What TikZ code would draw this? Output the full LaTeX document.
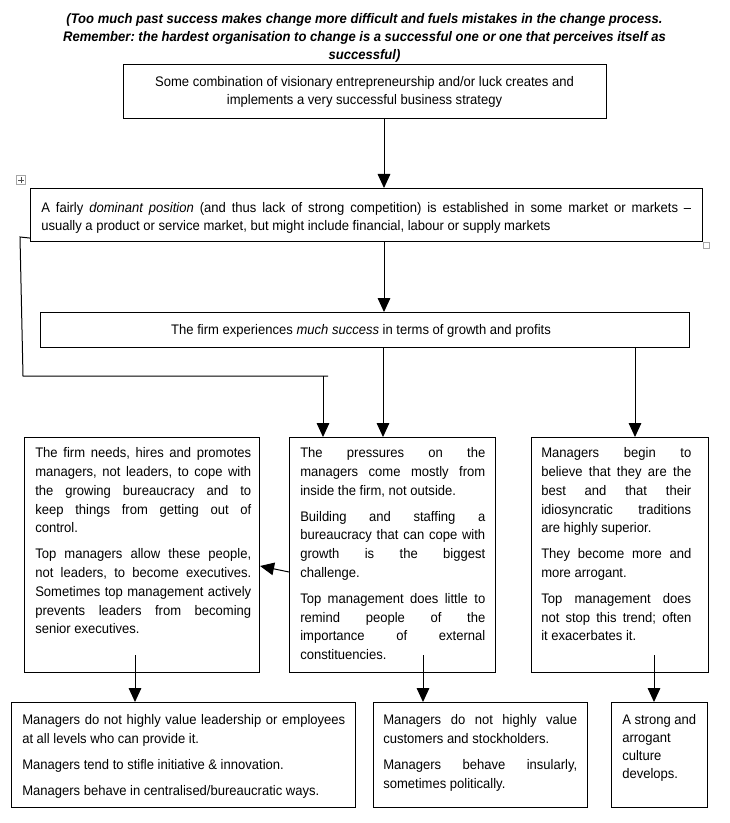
\documentclass[tikz,border=0pt]{standalone}
\usepackage{fontspec}
\setmainfont{Liberation Sans}[FakeStretch=0.94]
\usetikzlibrary{arrows.meta,calc}
\newlength\pxu \setlength\pxu{0.75pt}
\newcommand\hdf{\fontsize{10.4pt}{13.5pt}\selectfont\frenchspacing}
\newcommand\fstrut{\rule{0pt}{14\pxu}}
\newcommand\jtext[3]{\parbox[t]{#1\pxu}{\fontsize{10.4pt}{#2\pxu}\selectfont\frenchspacing\hyphenpenalty=10000 \exhyphenpenalty=10000 \tolerance=10000 \setlength\parskip{7\pxu}\fstrut #3}}
\begin{document}
\begin{tikzpicture}[x=0.75pt,y=-0.75pt,
  box/.style={draw, line width=0.8pt, inner sep=0pt, anchor=north west},
  txt/.style={inner sep=0pt, anchor=north west},
  ctxt/.style={inner sep=0pt, anchor=north, align=center, font=\hdf},
  arr/.style={-{Triangle[length=10.5pt,width=9.5pt]}, line width=0.75pt},
  conn/.style={line width=0.75pt}]
\useasboundingbox (0,0) rectangle (729,823);

% header
\node[ctxt, font=\hdf\bfseries\itshape] (H) at (364.5,9) {\fstrut(Too much past success makes change more difficult and fuels mistakes in the change process.\\Remember: the hardest organisation to change is a successful one or one that perceives itself as\\successful)};

% boxes
\node[box, minimum width=483\pxu, minimum height=54\pxu] (B1) at (123,64) {};
\node[box, minimum width=672\pxu, minimum height=53\pxu] (B2) at (30,188) {};
\node[box, minimum width=649\pxu, minimum height=35\pxu] (B3) at (40,312) {};
\node[box, minimum width=235\pxu, minimum height=235\pxu] (L) at (24,437) {};
\node[box, minimum width=206\pxu, minimum height=235\pxu] (M) at (289,437) {};
\node[box, minimum width=177\pxu, minimum height=235\pxu] (R) at (531,437) {};
\node[box, minimum width=344\pxu, minimum height=105\pxu] (BL) at (11,702) {};
\node[box, minimum width=214\pxu, minimum height=105\pxu] (BM) at (373,702) {};
\node[box, minimum width=96\pxu, minimum height=105\pxu] (BR) at (611,702) {};

% texts
\node[ctxt] (T1) at (364.5,72.5) {\fstrut Some combination of visionary entrepreneurship and/or luck creates and\\implements a very successful business strategy};
\node[txt] (T2) at (41,198.5) {\jtext{650}{18}{A fairly \textit{dominant position} (and thus lack of strong competition) is established in some market or markets --\linebreak usually a product or service market, but might include financial, labour or supply markets}};
\node[ctxt] (T3) at (361,320) {\fstrut The firm experiences \textit{much success} in terms of growth and profits};

\node[txt] (TL) at (35,443.5) {\jtext{216}{18.8}{The firm needs, hires and promotes\linebreak managers, not leaders, to cope with\linebreak the growing bureaucracy and to\linebreak keep things from getting out of\linebreak control.\par Top managers allow these people,\linebreak not leaders, to become executives.\linebreak Sometimes top management actively\linebreak prevents leaders from becoming\linebreak senior executives.}};
\node[txt] (TM) at (300,443.5) {\jtext{185}{18.8}{The pressures on the\linebreak managers come mostly from\linebreak inside the firm, not outside.\par Building and staffing a\linebreak bureaucracy that can cope with\linebreak growth is the biggest\linebreak challenge.\par Top management does little to\linebreak remind people of the\linebreak importance of external\linebreak constituencies.}};
\node[txt] (TR) at (541,443.5) {\jtext{150}{18.8}{Managers begin to\linebreak believe that they are the\linebreak best and that their\linebreak idiosyncratic traditions\linebreak are highly superior.\par They become more and\linebreak more arrogant.\par Top management does\linebreak not stop this trend; often\linebreak it exacerbates it.}};

\node[txt] (TBL) at (22,710.5) {\jtext{323}{18.8}{Managers do not highly value leadership or employees\linebreak at all levels who can provide it.\par Managers tend to stifle initiative \& innovation.\par Managers behave in centralised/bureaucratic ways.}};
\node[txt] (TBM) at (383,710.5) {\jtext{194}{18.8}{Managers do not highly value\linebreak customers and stockholders.\par Managers behave insularly,\linebreak sometimes politically.}};
\node[txt] (TBR) at (622,710.5) {\jtext{79}{18}{A strong and\\arrogant\\culture\\develops.}};

% arrows
\coordinate (x1) at (384,0);
\coordinate (x2) at (383,0);
\coordinate (x3) at (635,0);
\draw[arr] (B1.south -| x1) -- (B2.north -| x1);
\draw[arr] (B2.south -| x1) -- (B3.north -| x1);
\draw[arr] (B3.south -| x2) -- (M.north -| x2);
\draw[arr] (B3.south -| x3) -- (R.north -| x3);

% feedback line
\coordinate (f0) at ($(B2.south west)+(0,-4)$);
\coordinate (f1) at (20,237);
\coordinate (f2) at (23,376);
\coordinate (f3) at (328,376);
\coordinate (fa) at (323,376);
\draw[conn] (f0) -- (f1) -- (f2) -- (f3);
\draw[arr] (fa) -- (fa |- M.north);

% side arrow
\coordinate (la) at (0,572);
\coordinate (lb) at (0,566);
\draw[arr] (M.west |- la) -- (L.east |- lb);

% lower arrows
\coordinate (s1) at (135,655);
\coordinate (s2) at (423,655);
\coordinate (s3) at (654,655);
\draw[arr] (s1) -- (s1 |- BL.north);
\draw[arr] (s2) -- (s2 |- BM.north);
\draw[arr] (s3) -- (s3 |- BR.north);

% editor handles
\draw[gray!70, line width=0.5pt] (16.5,175.5) rectangle (25.5,184.5);
\draw[gray!60!black, line width=0.4pt] (18,180) -- (24,180) (21,177) -- (21,183);
\draw[gray!70, line width=0.5pt] (703,242) rectangle (709,248);
\end{tikzpicture}
\end{document}
